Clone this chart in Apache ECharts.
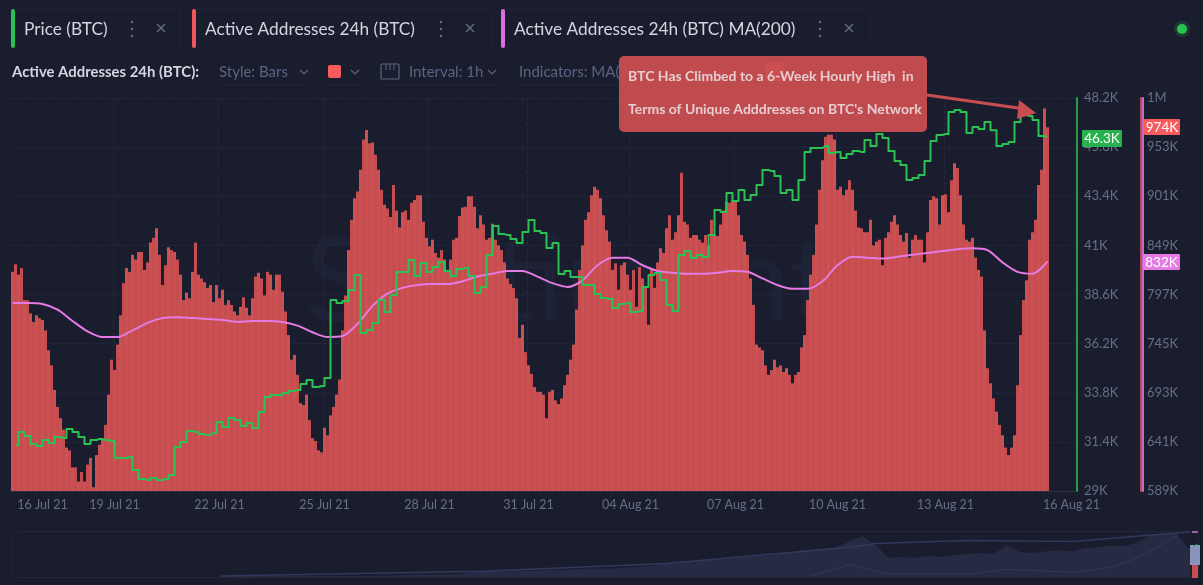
<!DOCTYPE html>
<html>
<head>
<meta charset="utf-8">
<title>Active Addresses 24h (BTC)</title>
<script src="https://cdn.jsdelivr.net/npm/echarts@6/dist/echarts.min.js"></script>
<style>
html,body{margin:0;padding:0;background:#191d2e;}
#chart{width:1203px;height:585px;}
</style>
</head>
<body>
<div id="chart"></div>
<script>
// hourly-ish readings, one bar every 3px, in thousands of addresses
var activeAddresses = [
821,829,818,825,791,791,777,768,775,772,770,759,738,722,696,678,666,654,635,632,614,614,599,609,599,617,624,593,627,638,643,659,691,728,717,744,775,809,825,821,839,834,842,
842,823,831,852,857,867,839,807,828,847,844,842,834,818,791,799,793,821,852,818,814,810,804,807,789,807,793,
802,786,791,786,779,775,784,794,783,775,793,816,820,814,796,821,818,802,818,818,800,779,754,728,733,712,682,680,691,664,645,642,632,630,656,648,669,678,691,707,759,796,844,876,899,906,929,961,971,957,958,945,929,908,892,888,879,913,886,868,884,886,876,894,897,902,902,874,
857,848,855,841,836,844,834,823,834,855,857,880,889,890,901,901,890,867,881,871,855,857,872,855,849,844,831,814,808,804,793,751,765,736,722,713,699,694,694,691,666,694,696,685,681,687,701,712,728,744,781,823,849,876,884,902,911,908,899,881,865,853,823,830,802,828,831,818,802,
823,784,826,814,805,765,823,804,831,846,841,867,881,855,863,881,926,874,871,857,860,860,855,852,860,849,876,860,859,871,886,895,894,897,897,881,860,853,839,814,786,744,741,738,722,712,717,728,720,722,715,719,712,703,712,715,741,754,791,818,839,871,908,939,964,966,966,
961,908,911,902,908,918,908,886,868,867,863,863,876,849,853,855,828,857,863,874,881,871,860,853,862,836,855,860,855,855,831,863,897,901,899,871,902,903,884,918,936,931,902,871,855,853,857,836,823,816,759,719,703,687,673,659,648,635,627,635,648,701,754,791,812,855,863,876,913,929,994,974
];
// BTC price in thousands of USD, every second bar
var btcPrice = [
31.25,31.88,31.69,31.30,31.20,31.49,31.34,31.64,31.59,32.03,31.88,31.64,31.30,31.49,31.54,31.49,31.44,30.61,30.61,30.66,30.03,29.59,29.54,29.64,29.54,29.59,29.78,31.15,31.39,31.93,31.88,31.78,31.74,31.83,32.37,
32.13,32.57,32.47,32.18,32.32,32.08,32.86,33.59,33.69,33.69,33.79,33.89,33.93,34.23,34.42,34.08,34.13,34.52,38.33,38.18,38.28,38.82,39.55,36.72,36.86,37.21,38.33,37.74,38.57,39.70,39.70,40.28,39.50,40.14,
39.70,39.94,40.19,39.75,39.50,39.84,39.89,39.50,38.67,38.97,40.53,41.95,41.55,41.51,41.31,41.11,41.65,42.24,41.70,41.60,40.87,41.11,39.60,39.75,39.45,39.45,39.06,39.06,38.62,38.43,38.38,37.94,38.14,38.18,
37.74,37.79,38.97,39.55,39.65,39.31,38.09,37.79,40.53,40.72,40.38,40.53,40.43,41.51,42.73,42.63,43.56,43.17,43.70,43.22,43.46,43.95,44.68,44.63,44.39,43.56,43.70,43.22,44.19,45.56,45.76,45.76,45.85,45.51,
45.56,45.27,45.46,45.61,45.56,46.15,45.85,46.44,46.24,45.61,45.12,44.93,44.19,44.29,44.44,45.12,46.10,46.39,46.44,47.51,47.61,47.51,46.49,46.78,46.68,47.03,46.63,45.85,45.95,46.05,47.03,47.37,47.32,47.12,46.34,46.30
];
// MA(200) of the active addresses, every fifth bar
var activeAddressesMa = [
788,788,787,781,769,758,752,752,759,767,772,773,772,771,770,768,769,769,768,764,757,752,753,766,785,798,804,807,808,808,811,816,819,822,822,816,809,805,812,828,836,836,828,822,820,819,819,820,822,821,814,807,803,803,811,828,837,836,835,837,839,841,843,845,846,844,831,821,819,832
];
// overview strip at the bottom, relative heights
var navArea = [1,1,1,1,1,1,1,1,1,1,1,1,1.5,1.5,2,3,2.5,2.5,3,5,6,6.5,6,6.5,6.5,7.5,7,8,9,9,9,10,11,12,15,16,17,18,18,19,21,22,22,25,27,29,29,31,37,43,33,20,21,20,22,21,23,24,25,24,33,26,25,27,28,27,30,31,33,32,36,44,46,45,28];
var navHighIdx = [0,20,34,48,50,57,65,72,74];
var navHigh = [1,6,14,31,35,38,37,45,47];
var navLowIdx = [45,48,51,57,60,65,68,70,72,73];
var navLow = [1,13,3,3,8,5,10,20,35,43];

var timeLabels = ['16 Jul 21','19 Jul 21','22 Jul 21','25 Jul 21','28 Jul 21','31 Jul 21','04 Aug 21','07 Aug 21','10 Aug 21','13 Aug 21','16 Aug 21'];
var timeLabelIdx = [10,34,69,104,139,172,206,241,275,311,353];
var priceTicks = [29,31.4,33.8,36.2,38.6,41,43.4,45.8,48.2];
var priceTickLabels = ['29K','31.4K','33.8K','36.2K','38.6K','41K','43.4K','45.8K','48.2K'];
var addressTicks = [589,641,693,745,797,849,901,953,1005];
var addressTickLabels = ['589K','641K','693K','745K','797K','849K','901K','953K','1M'];

var bg = '#191d2e', muted = '#676e88', light = '#d3d6df', dim = '#5c6482', line = '#232840';
var red = '#c94e51', green = '#2bc253', pink = '#e67ae4';
var font = 'Lato';

var categories = [];
for (var i = 0; i < 355; i++) {
    var at = timeLabelIdx.indexOf(i);
    categories.push(at >= 0 ? timeLabels[at] : '');
}
function pairs(idx, vals) {
    return vals.map(function (v, k) { return [idx[k], v]; });
}
function everyNth(vals, n, start) {
    return vals.map(function (v, k) { return [start + k * n, v]; });
}

// top bar bits
function txt(x, y, s, color, size, weight, z) {
    return { type: 'text', z: z || 5, style: { x: x, y: y, text: s, fill: color, font: (weight || 400) + ' ' + size + 'px ' + font, verticalAlign: 'middle' } };
}
function tab(x, w, color, label, dotsX, closeX) {
    return [
        { type: 'rect', z: 5, shape: { x: x, y: 9, width: w, height: 39, r: 4 }, style: { fill: 'none', stroke: '#20253a' } },
        { type: 'rect', z: 6, shape: { x: x, y: 9, width: 4, height: 39, r: 2 }, style: { fill: color } },
        txt(x + 13, 29, label, light, 17.3),
        { type: 'circle', z: 5, shape: { cx: dotsX, cy: 22, r: 1.2 }, style: { fill: muted } },
        { type: 'circle', z: 5, shape: { cx: dotsX, cy: 29, r: 1.2 }, style: { fill: muted } },
        { type: 'circle', z: 5, shape: { cx: dotsX, cy: 36, r: 1.2 }, style: { fill: muted } },
        { type: 'polyline', z: 5, shape: { points: [[closeX - 4, 24], [closeX + 4, 32]] }, style: { stroke: muted, lineWidth: 1.2 } },
        { type: 'polyline', z: 5, shape: { points: [[closeX + 4, 24], [closeX - 4, 32]] }, style: { stroke: muted, lineWidth: 1.2 } }
    ];
}
function chevron(x) {
    return { type: 'polyline', z: 5, shape: { points: [[x - 4, 70], [x, 74], [x + 4, 70]] }, style: { stroke: dim, lineWidth: 1.2 } };
}
function under(x1, x2) {
    return { type: 'polyline', z: 5, shape: { points: [[x1, 85], [x2, 85]] }, style: { stroke: '#2a3047', lineDash: [2, 2] } };
}
function badge(x, y, w, h, color, s, tc) {
    return [
        { type: 'rect', z: 20, shape: { x: x, y: y, width: w, height: h, r: 1 }, style: { fill: color } },
        { type: 'text', z: 21, style: { x: x + w / 2, y: y + h / 2 + 0.5, text: s, fill: tc, font: '400 13.5px ' + font, align: 'center', verticalAlign: 'middle' } }
    ];
}

var graphics = [].concat(
    [{ type: 'text', z: 0, style: { x: 305, y: 283, text: 'Santiment', fill: '#1e2236', font: '400 118px ' + font, verticalAlign: 'middle' } }],
    tab(11, 170, '#2bc253', 'Price (BTC)', 132, 161),
    tab(192, 300, '#f0575a', 'Active Addresses 24h (BTC)', 441, 470),
    tab(501, 369, '#dc6fe0', 'Active Addresses 24h (BTC) MA(200)', 820, 849),
    [
        { type: 'circle', z: 5, shape: { cx: 1182, cy: 29, r: 8 }, style: { fill: '#1d3a33' } },
        { type: 'circle', z: 6, shape: { cx: 1182, cy: 29, r: 5 }, style: { fill: '#2bc253' } },
        txt(12, 72, 'Active Addresses 24h (BTC):', light, 14.9, 700),
        txt(219, 72, 'Style: Bars', dim, 15), chevron(304), under(219, 308),
        { type: 'rect', z: 5, shape: { x: 328, y: 65, width: 13, height: 13, r: 2 }, style: { fill: '#f95b5c' } },
        chevron(355), under(328, 360),
        { type: 'rect', z: 5, shape: { x: 381, y: 64, width: 18, height: 15, r: 1 }, style: { fill: 'none', stroke: dim, lineWidth: 1.2 } },
        { type: 'polyline', z: 5, shape: { points: [[386, 64], [386, 70]] }, style: { stroke: dim } },
        { type: 'polyline', z: 5, shape: { points: [[390, 64], [390, 70]] }, style: { stroke: dim } },
        { type: 'polyline', z: 5, shape: { points: [[394, 64], [394, 70]] }, style: { stroke: dim } },
        txt(409, 72, 'Interval: 1h', dim, 15), chevron(492), under(380, 500),
        txt(519, 72, 'Indicators: MA(200)', dim, 15), under(519, 675),
        txt(688, 72, 'Show axis', dim, 15),
        { type: 'rect', z: 5, shape: { x: 765, y: 62, width: 19, height: 19, r: 2 }, style: { fill: '#f0575a' } },
        // annotation with the arrow
        { type: 'rect', z: 30, shape: { x: 619, y: 56, width: 308, height: 76, r: 5 }, style: { fill: 'rgba(201,78,81,0.95)' } },
        txt(628, 76, 'BTC Has Climbed to a 6-Week Hourly High  in', '#e6cdcf', 14, 700, 31),
        txt(628, 109, "Terms of Unique Adddresses on BTC's Network", '#e6cdcf', 14, 700, 31),
        { type: 'polyline', z: 30, shape: { points: [[927, 95], [1025, 109]] }, style: { stroke: red, lineWidth: 3 } },
        { type: 'polygon', z: 30, shape: { points: [[1036, 113], [1019, 100], [1017, 119]] }, style: { fill: red } },
        // overview frame and selection
        { type: 'rect', z: 1, shape: { x: 12.5, y: 531.5, width: 1186, height: 46, r: 5 }, style: { fill: 'none', stroke: '#22273a' } },
        { type: 'rect', z: 10, shape: { x: 1190, y: 545, width: 10, height: 20 }, style: { fill: '#8a93bb' } },
        { type: 'rect', z: 10, shape: { x: 1192, y: 565, width: 6, height: 13 }, style: { fill: '#c94e51' } },
        { type: 'rect', z: 10, shape: { x: 1192, y: 531, width: 6, height: 2 }, style: { fill: '#a65bb0' } },
        { type: 'polyline', z: 10, shape: { points: [[1193, 548], [1197, 544]] }, style: { stroke: '#2bc253' } }
    ],
    badge(1082, 130, 40, 17, '#27b14f', '46.3K', '#ffffff'),
    badge(1144, 119, 36, 16, '#f95b5c', '974K', '#ffffff'),
    badge(1143, 254, 37, 16, pink, '832K', '#ffffff')
);

var myChart = echarts.init(document.getElementById('chart'));
myChart.setOption({
    animation: false,
    backgroundColor: bg,
    textStyle: { fontFamily: font },
    graphic: graphics,
    grid: [
        { left: 11, right: 127, top: 98, bottom: 94 },
        { left: 221, right: 13, top: 532, bottom: 8 }
    ],
    xAxis: [{
        type: 'category',
        data: categories,
        axisLine: { lineStyle: { color: '#2a2f46' } },
        axisTick: { show: false },
        splitLine: {
            show: true,
            interval: function (i) { var k = timeLabelIdx.indexOf(i); return k > 0 && k < timeLabelIdx.length - 1; },
            lineStyle: { color: line, type: 'dashed' }
        },
        axisLabel: {
            interval: function (i) { return timeLabelIdx.indexOf(i) >= 0; },
            color: muted, fontSize: 12.5, margin: 7, hideOverlap: false
        }
    }, {
        type: 'category', gridIndex: 1, data: navArea.map(function (v, k) { return k; }), show: false, boundaryGap: false
    }],
    yAxis: [{
        type: 'value', position: 'right', offset: 1, min: 29, max: 48.2,
        axisLine: { show: true, lineStyle: { color: '#2a9a49', width: 2 } },
        splitLine: { show: true, lineStyle: { color: line, type: 'dashed' } },
        axisTick: { show: false, customValues: priceTicks },
        axisLabel: {
            customValues: priceTicks, color: muted, fontSize: 13, margin: 7,
            formatter: function (v) { return priceTickLabels[priceTicks.indexOf(v)]; }
        }
    }, {
        type: 'value', position: 'right', offset: 67, min: 589, max: 1005,
        axisLine: { show: true, onZero: false, lineStyle: { color: '#c668cc', width: 2 } },
        axisTick: { show: false, customValues: addressTicks },
        splitLine: { show: false },
        axisLabel: {
            customValues: addressTicks, color: muted, fontSize: 13, margin: 4,
            formatter: function (v) { return addressTickLabels[addressTicks.indexOf(v)]; }
        }
    }, {
        type: 'value', position: 'right', offset: 65, min: 589, max: 1005,
        axisLine: { show: true, onZero: false, lineStyle: { color: '#b84c50', width: 2 } },
        axisTick: { show: false },
        splitLine: { show: false },
        axisLabel: { show: false }
    }, {
        type: 'value', gridIndex: 1, min: 0, max: 47, show: false
    }],
    series: [{
        name: 'Active Addresses 24h (BTC)',
        type: 'bar',
        yAxisIndex: 2,
        data: activeAddresses,
        barWidth: 3,
        itemStyle: { color: function (p) { return p.dataIndex % 2 ? '#c54c4f' : '#cd5053'; } },
        silent: true
    }, {
        name: 'Active Addresses 24h (BTC) MA(200)',
        type: 'line',
        yAxisIndex: 1,
        data: everyNth(activeAddressesMa, 5, 0),
        smooth: 0.3,
        showSymbol: false,
        lineStyle: { color: pink, width: 2 },
        silent: true
    }, {
        name: 'Price (BTC)',
        type: 'line',
        yAxisIndex: 0,
        data: everyNth(btcPrice, 2, 1),
        step: 'middle',
        showSymbol: false,
        lineStyle: { color: green, width: 2, join: 'round' },
        silent: true
    }, {
        type: 'line', xAxisIndex: 1, yAxisIndex: 3, data: navArea, showSymbol: false,
        lineStyle: { width: 0 }, areaStyle: { color: '#262a42', opacity: 1 }, silent: true
    }, {
        type: 'line', xAxisIndex: 1, yAxisIndex: 3, data: pairs(navHighIdx, navHigh), showSymbol: false,
        lineStyle: { color: '#33395a', width: 1.5 }, silent: true
    }, {
        type: 'line', xAxisIndex: 1, yAxisIndex: 3, data: pairs(navLowIdx, navLow), showSymbol: false,
        lineStyle: { color: '#33395a', width: 1 }, silent: true
    }]
});
</script>
</body>
</html>
